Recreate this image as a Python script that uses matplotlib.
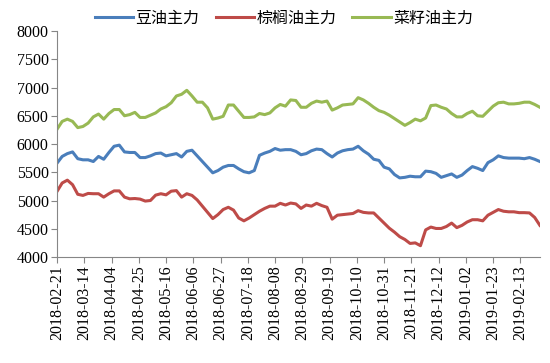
import matplotlib
matplotlib.use("Agg")
import matplotlib.pyplot as plt
import matplotlib.dates as mdates
import pandas as pd

# price series, one value every 4 days
dates = pd.date_range("2018-02-21", "2019-02-28", freq="4D")

soy = [5660, 5780, 5830, 5860, 5740, 5720, 5720, 5690, 5780, 5730,
       5850, 5960, 5980, 5860, 5850, 5850, 5760, 5760, 5790, 5830,
       5840, 5790, 5810, 5830, 5770, 5870, 5890, 5790, 5690, 5590,
       5490, 5530, 5590, 5620, 5620, 5560, 5510, 5490, 5530, 5800,
       5840, 5870, 5920, 5890, 5900, 5900, 5870, 5810, 5830, 5880,
       5910, 5900, 5830, 5770, 5840, 5880, 5900, 5910, 5960, 5880,
       5820, 5730, 5710, 5590, 5560, 5460, 5400, 5410, 5430, 5420,
       5420, 5520, 5510, 5480, 5410, 5440, 5470, 5410, 5450, 5530,
       5600, 5570, 5530, 5670, 5720, 5790, 5760, 5750, 5750, 5750,
       5740, 5760, 5730, 5690]

palm = [5160, 5310, 5360, 5280, 5110, 5090, 5125, 5120, 5120, 5060,
        5120, 5170, 5170, 5060, 5030, 5035, 5025, 4990, 5000, 5095,
        5120, 5100, 5165, 5175, 5060, 5120, 5090, 5010, 4900, 4790,
        4680, 4750, 4840, 4880, 4830, 4690, 4640, 4690, 4750, 4810,
        4860, 4900, 4900, 4950, 4920, 4955, 4940, 4860, 4920, 4900,
        4950, 4910, 4880, 4670, 4740, 4750, 4760, 4770, 4820, 4790,
        4780, 4780, 4690, 4600, 4510, 4440, 4360, 4310, 4240, 4250,
        4200, 4480, 4530, 4505, 4505, 4540, 4600, 4520, 4560, 4620,
        4660, 4660, 4640, 4740, 4790, 4840, 4810, 4800, 4800, 4785,
        4785, 4780, 4700, 4560]

rape = [6260, 6400, 6440, 6400, 6290, 6310, 6370, 6480, 6530, 6440,
        6540, 6610, 6610, 6500, 6520, 6560, 6470, 6470, 6510, 6550,
        6620, 6660, 6730, 6850, 6880, 6950, 6850, 6740, 6740, 6640,
        6440, 6460, 6490, 6690, 6690, 6580, 6470, 6470, 6480, 6540,
        6520, 6550, 6640, 6700, 6670, 6780, 6770, 6650, 6650, 6720,
        6760, 6740, 6760, 6600, 6640, 6690, 6700, 6710, 6820, 6780,
        6720, 6650, 6590, 6560, 6510, 6450, 6390, 6330, 6380, 6440,
        6410, 6460, 6680, 6690, 6650, 6620, 6540, 6480, 6480, 6540,
        6580, 6500, 6490, 6580, 6670, 6730, 6740, 6710, 6710, 6720,
        6740, 6740, 6700, 6650]

labels = ["豆油主力", "棕榈油主力", "菜籽油主力"]
colors = ["#4A7EBB", "#BE4B48", "#98B954"]

tick_dates = pd.date_range("2018-02-21", "2019-02-13", freq="21D")

plt.rcParams['font.family'] = ['Noto Sans CJK SC', 'DejaVu Sans']

fig = plt.figure(figsize=(5.5, 3.63), dpi=100)
ax = fig.add_axes([0.1036, 0.292, 0.878, 0.6226])

for series, label, color in zip([soy, palm, rape], labels, colors):
    ax.plot(dates, series, color=color, lw=2.2, label=label)

ax.set_ylim(4000, 8000)
ax.set_yticks(range(4000, 8001, 500))
ax.set_xlim(dates[0], dates[-1])
ax.set_xticks(tick_dates)
ax.xaxis.set_major_formatter(mdates.DateFormatter("%Y-%m-%d"))

for lbl in ax.get_xticklabels() + ax.get_yticklabels():
    lbl.set_fontfamily("Liberation Serif")
    lbl.set_fontsize(11.5)
plt.setp(ax.get_xticklabels(), rotation=90)

for side in ["top", "right"]:
    ax.spines[side].set_visible(False)
for side in ["left", "bottom"]:
    ax.spines[side].set_color("#868686")
ax.tick_params(direction="out", length=4, color="#868686", pad=2)

ax.legend(loc="lower center", bbox_to_anchor=(0.47, 0.99), ncol=3, frameon=False,
          fontsize=11.5, handlelength=2.4, columnspacing=1.0, handletextpad=0.15,
          borderaxespad=0)

fig.savefig("out.png", dpi=100)
